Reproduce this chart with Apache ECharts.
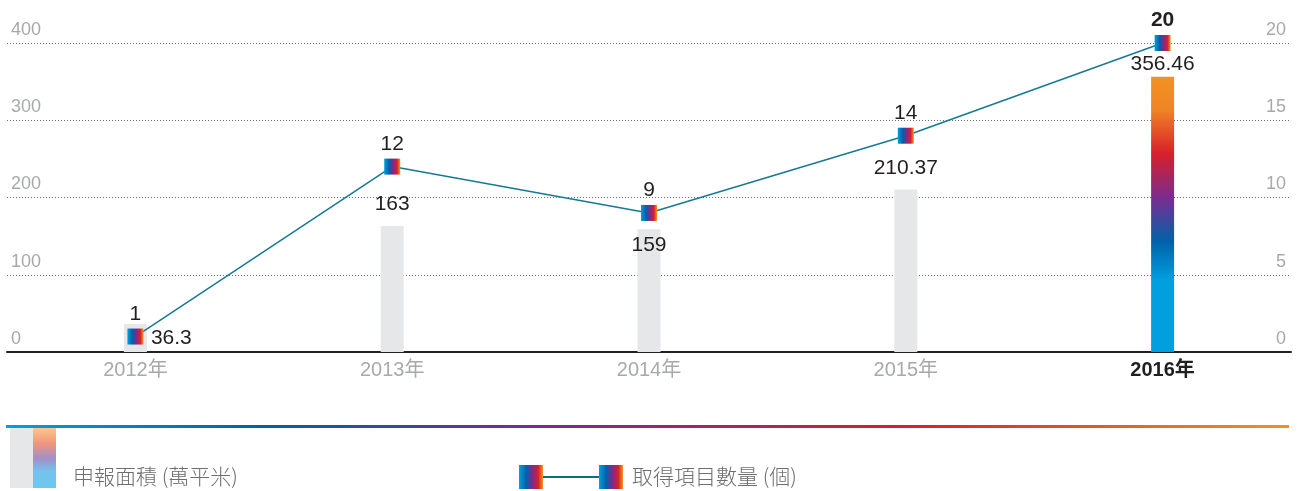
<!DOCTYPE html>
<html>
<head>
<meta charset="utf-8">
<script src="https://cdn.jsdelivr.net/npm/echarts@6/dist/echarts.min.js"></script>
<style>
  html, body { margin: 0; padding: 0; background: #fff; }
  #chart { width: 1298px; height: 491px; }
</style>
</head>
<body>
<div id="chart"></div>
<script>
var categories = ['2012年', '2013年', '2014年', '2015年', '2016年'];
var areaValues = [36.3, 163, 159, 210.37, 356.46];      // 申報面積 (萬平米)
var projectCounts = [1, 12, 9, 14, 20];                  // 取得項目數量 (個)
var areaAxis = { min: 0, max: 400, interval: 100 };
var countAxis = { min: 0, max: 20, interval: 5 };
var areaName = '申報面積 (萬平米)';
var countName = '取得項目數量 (個)';

var G = echarts.graphic.LinearGradient;
var numFont = '"Liberation Sans", Arial, sans-serif';
var cjkFont = '"Liberation Sans", "Noto Sans CJK TC", sans-serif';
var legendFont = '"Noto Sans CJK TC", sans-serif';

// little gradient square used for the markers
function markerGrad() {
  return new G(0, 0, 1, 0, [
    { offset: 0, color: '#00a0df' },
    { offset: 0.3, color: '#0062a9' },
    { offset: 0.55, color: '#7b2a8e' },
    { offset: 0.8, color: '#d71e2d' },
    { offset: 1, color: '#f7941d' }
  ]);
}

var barGrad = new G(0, 0, 0, 1, [
  { offset: 0, color: '#f39223' },
  { offset: 0.12, color: '#f08424' },
  { offset: 0.28, color: '#d81f2b' },
  { offset: 0.44, color: '#7b2c90' },
  { offset: 0.6, color: '#0062aa' },
  { offset: 0.74, color: '#00a0e0' },
  { offset: 1, color: '#00a0e0' }
]);

// per-bar label placement
var barLabels = [
  { position: 'right', distance: 4 },
  { position: 'top', distance: 11 },
  { position: 'insideTop', distance: 6 },
  { position: 'top', distance: 11 },
  { position: 'top', distance: 2 }
];

var barData = areaValues.map(function (v, i) {
  var last = i === areaValues.length - 1;
  return {
    value: v,
    itemStyle: { color: last ? barGrad : '#e6e7e8' },
    label: barLabels[i]
  };
});

var lineData = projectCounts.map(function (v, i) {
  var last = i === projectCounts.length - 1;
  return {
    value: v,
    label: last ? { fontWeight: 'bold' } : {}
  };
});

var option = {
  animation: false,
  backgroundColor: '#fff',
  grid: { left: 7, right: 7, top: 43, bottom: 139 },
  xAxis: {
    type: 'category',
    data: categories,
    axisLine: { lineStyle: { color: '#231f20', width: 2 } },
    axisTick: { show: false },
    axisLabel: {
      margin: 8,
      fontSize: 20,
      fontFamily: cjkFont,
      color: '#a7a9ac',
      formatter: function (val, idx) {
        return idx === categories.length - 1 ? '{b|' + val + '}' : val;
      },
      rich: { b: { fontSize: 20, fontWeight: 'bold', color: '#231f20', fontFamily: cjkFont } }
    }
  },
  yAxis: [
    {
      type: 'value',
      min: areaAxis.min, max: areaAxis.max, interval: areaAxis.interval,
      axisLine: { show: false },
      axisTick: { show: false },
      splitLine: { lineStyle: { color: '#6d6e71', type: [1, 2], width: 1 } },
      axisLabel: {
        inside: true, margin: 4, verticalAlign: 'bottom', padding: [0, 0, 4, 0],
        fontSize: 18, color: '#a7a9ac', fontFamily: numFont
      }
    },
    {
      type: 'value',
      min: countAxis.min, max: countAxis.max, interval: countAxis.interval,
      axisLine: { show: false },
      axisTick: { show: false },
      splitLine: { show: false },
      axisLabel: {
        inside: true, margin: 5, verticalAlign: 'bottom', padding: [0, 0, 4, 0],
        fontSize: 18, color: '#a7a9ac', fontFamily: numFont
      }
    }
  ],
  series: [
    {
      name: areaName,
      type: 'bar',
      yAxisIndex: 0,
      barWidth: 23,
      data: barData,
      label: {
        show: true,
        fontSize: 21,
        color: '#231f20',
        fontFamily: numFont
      }
    },
    {
      name: countName,
      type: 'line',
      yAxisIndex: 1,
      symbol: 'rect',
      symbolSize: 16,
      itemStyle: { color: markerGrad() },
      lineStyle: { color: '#157a92', width: 1.5 },
      data: lineData,
      label: {
        show: true,
        position: 'top',
        distance: 4,
        fontSize: 21,
        color: '#231f20',
        fontFamily: numFont
      }
    }
  ],
  graphic: [
    // gradient rule above the legend
    {
      type: 'rect', left: 6, top: 425,
      shape: { width: 1283, height: 3 },
      style: {
        fill: new G(0, 0, 1, 0, [
          { offset: 0, color: '#00a0df' },
          { offset: 0.2, color: '#0060a9' },
          { offset: 0.42, color: '#7b2a8e' },
          { offset: 0.7, color: '#d71e2d' },
          { offset: 1, color: '#f3921f' }
        ])
      },
      silent: true
    },
    // bar legend icon
    {
      type: 'rect', left: 10, top: 428,
      shape: { width: 23, height: 60 },
      style: { fill: '#e6e7e8' }, silent: true
    },
    {
      type: 'rect', left: 33, top: 428,
      shape: { width: 23, height: 60 },
      style: {
        fill: new G(0, 0, 0, 1, [
          { offset: 0, color: '#fcc78b' },
          { offset: 0.25, color: '#f0977a' },
          { offset: 0.5, color: '#a58ec6' },
          { offset: 0.72, color: '#74c2ee' },
          { offset: 1, color: '#6cc8f0' }
        ])
      },
      silent: true
    },
    {
      type: 'text', left: 73, top: 466,
      style: { text: areaName, fontSize: 21, fill: '#6d6e71', fontFamily: legendFont, fontWeight: 300 },
      silent: true
    },
    // line legend icon
    {
      type: 'rect', left: 519, top: 465,
      shape: { width: 24, height: 24 },
      style: { fill: markerGrad() }, silent: true
    },
    {
      type: 'line',
      shape: { x1: 543, y1: 477, x2: 599, y2: 477 },
      style: { stroke: '#0a6f85', lineWidth: 2 }, silent: true
    },
    {
      type: 'rect', left: 599, top: 465,
      shape: { width: 24, height: 24 },
      style: { fill: markerGrad() }, silent: true
    },
    {
      type: 'text', left: 632, top: 466,
      style: { text: countName, fontSize: 21, fill: '#6d6e71', fontFamily: legendFont, fontWeight: 300 },
      silent: true
    }
  ]
};

var chart = echarts.init(document.getElementById('chart'));
chart.setOption(option);
</script>
</body>
</html>
